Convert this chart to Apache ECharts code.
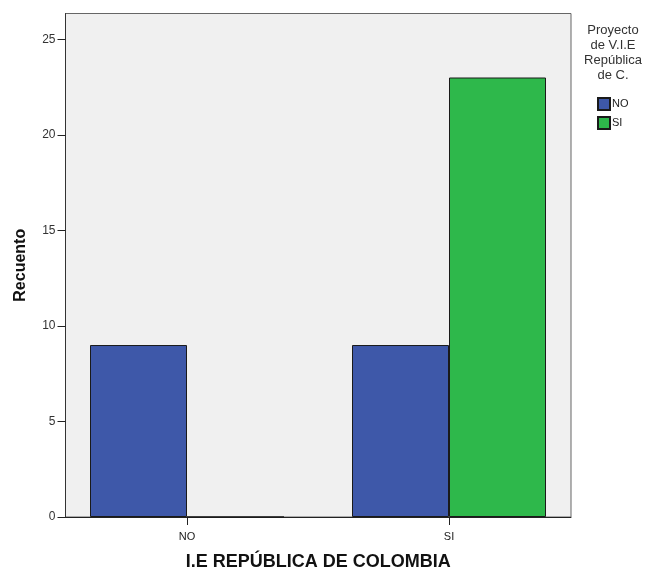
<!DOCTYPE html>
<html>
<head>
<meta charset="utf-8">
<script src="https://cdn.jsdelivr.net/npm/echarts@6/dist/echarts.min.js"></script>
<style>html,body{margin:0;padding:0;background:#fff;}#c{width:651px;height:572px;}</style>
</head>
<body>
<div id="c"></div>
<script>
const categories = ['NO', 'SI'];
const seriesNames = ['NO', 'SI'];
const valuesNO = [9, 9];
const valuesSI = [0, 23];
const yTicks = [0, 5, 10, 15, 20, 25];
const yMax = 26.35;
const xTitle = 'I.E REPÚBLICA DE COLOMBIA';
const yTitle = 'Recuento';
const legendTitle = 'Proyecto\nde V.I.E\nRepública\nde C.';

const font = 'Liberation Sans, Arial, sans-serif';
const chart = echarts.init(document.getElementById('c'), null, {renderer: 'canvas'});
chart.setOption({
  animation: false,
  backgroundColor: '#ffffff',
  textStyle: {fontFamily: font},
  title: {
    text: legendTitle,
    left: 613, top: 23, textAlign: 'center', padding: 0,
    textStyle: {fontSize: 13, fontWeight: 'normal', color: '#333', lineHeight: 15, fontFamily: font}
  },
  legend: {
    orient: 'vertical', left: 597, top: 97, padding: 0,
    itemWidth: 12, itemHeight: 12, itemGap: 5,
    icon: 'rect',
    data: seriesNames,
    textStyle: {fontSize: 11, color: '#222', padding: [0, 0, 0, -3], fontFamily: font}
  },
  grid: [
    {left: 65.5, top: 13.5, width: 505.5, height: 503.5, show: true, backgroundColor: '#f0f0f0', borderColor: '#666', borderWidth: 1, outerBoundsMode: 'none', containLabel: false},
    {left: 56, top: 13.5, width: 524, height: 503.5, show: false, outerBoundsMode: 'none', containLabel: false}
  ],
  xAxis: [
    {gridIndex: 0, type: 'value', min: 0, max: 1,
     axisLine: {show: true, onZero: false, lineStyle: {color: '#222'}},
     axisTick: {show: false}, axisLabel: {show: false}, splitLine: {show: false},
     name: xTitle, nameLocation: 'middle', nameGap: 36,
     nameTextStyle: {fontSize: 18, fontWeight: 'bold', color: '#111', fontFamily: font}},
    {gridIndex: 1, type: 'category', data: categories,
     axisLine: {show: false},
     axisTick: {show: true, alignWithLabel: true, length: 8, lineStyle: {color: '#222'}},
     axisLabel: {fontSize: 11, color: '#222', margin: 14, fontFamily: font}}
  ],
  yAxis: [
    {gridIndex: 0, type: 'value', min: 0, max: yMax, interval: 5,
     axisLine: {show: true, onZero: false, lineStyle: {color: '#333'}},
     axisTick: {show: true, length: 8, customValues: yTicks, lineStyle: {color: '#222'}},
     axisLabel: {fontSize: 12, color: '#333', margin: 10, fontFamily: font, customValues: yTicks},
     splitLine: {show: false},
     name: yTitle, nameLocation: 'middle', nameGap: 37, nameRotate: 90,
     nameTextStyle: {fontSize: 16, fontWeight: 'bold', color: '#111', fontFamily: font}},
    {gridIndex: 1, type: 'value', min: 0, max: yMax, show: false}
  ],
  series: [
    {name: seriesNames[0], type: 'bar', xAxisIndex: 1, yAxisIndex: 1, data: valuesNO,
     barWidth: 97, barGap: '0%',
     itemStyle: {color: '#3e58a9', borderColor: '#1a1a1a', borderWidth: 1}},
    {name: seriesNames[1], type: 'bar', xAxisIndex: 1, yAxisIndex: 1, data: valuesSI,
     barWidth: 97, barGap: '0%',
     itemStyle: {color: '#2eb84b', borderColor: '#1a1a1a', borderWidth: 1}}
  ]
});
</script>
</body>
</html>
